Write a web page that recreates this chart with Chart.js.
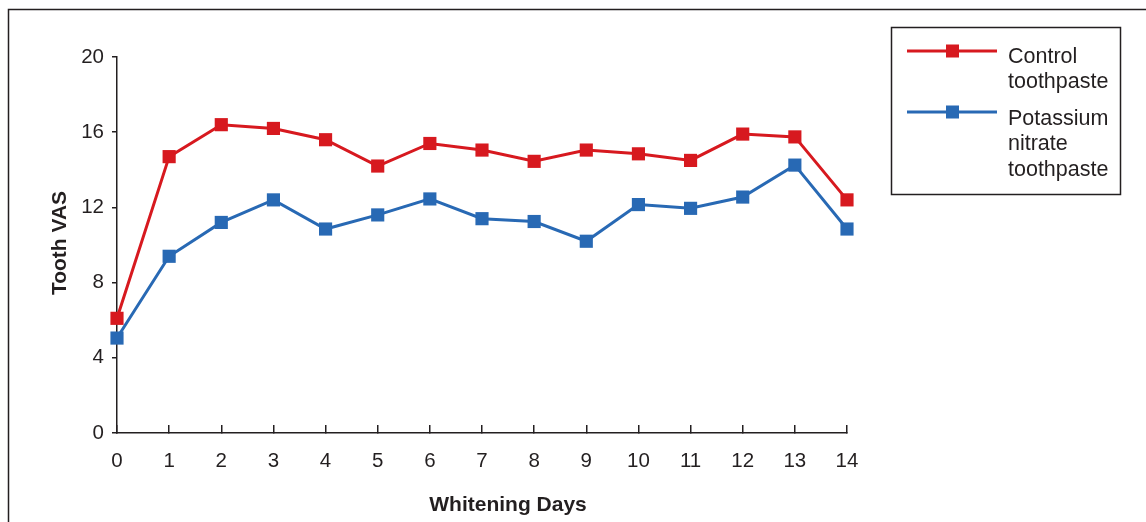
<!DOCTYPE html>
<html>
<head>
<meta charset="utf-8">
<script src="https://cdn.jsdelivr.net/npm/chart.js@4"></script>
<style>
  html, body { margin: 0; padding: 0; background: #fff; }
  #wrap { width: 1146px; height: 522px; position: relative; }
</style>
</head>
<body>
<div id="wrap"><canvas id="vasChart"></canvas></div>
<script>
// data
const days = [0, 1, 2, 3, 4, 5, 6, 7, 8, 9, 10, 11, 12, 13, 14];
const controlVas = [6.1, 14.7, 16.4, 16.2, 15.6, 14.2, 15.4, 15.05, 14.45, 15.05, 14.85, 14.5, 15.9, 15.75, 12.4];
const potassiumVas = [5.05, 9.4, 11.2, 12.4, 10.85, 11.6, 12.45, 11.4, 11.25, 10.2, 12.15, 11.95, 12.55, 14.25, 10.85];
const yTicks = [0, 4, 8, 12, 16, 20];
const controlLabel = ['Control', 'toothpaste'];
const potassiumLabel = ['Potassium', 'nitrate', 'toothpaste'];
const xTitle = 'Whitening Days';
const yTitle = 'Tooth VAS';

const RED = '#d7191f';
const BLUE = '#2869b4';
const INK = '#231f20';
const FONT = '"Liberation Sans", Arial, Helvetica, sans-serif';

// outer frame (only top and left edges show in the original)
const framePlugin = {
    id: 'frame',
    beforeDraw(chart) {
        const ctx = chart.ctx;
        ctx.save();
        ctx.strokeStyle = INK;
        ctx.lineWidth = 1.5;
        ctx.beginPath();
        ctx.moveTo(8.5, chart.height);
        ctx.lineTo(8.5, 9.5);
        ctx.lineTo(chart.width, 9.5);
        ctx.stroke();
        ctx.restore();
    }
};

// axis titles, placed like the figure
const titlesPlugin = {
    id: 'axisTitles',
    afterDraw(chart) {
        const ctx = chart.ctx;
        ctx.save();
        ctx.fillStyle = INK;
        ctx.font = 'bold 21px ' + FONT;
        ctx.textAlign = 'center';
        ctx.textBaseline = 'middle';
        ctx.fillText(xTitle, 508, 505);
        ctx.translate(60, 243);
        ctx.rotate(-Math.PI / 2);
        ctx.fillText(yTitle, 0, 0);
        ctx.restore();
    }
};

// boxed legend with multi-line labels
const legendPlugin = {
    id: 'boxLegend',
    afterDraw(chart) {
        const ctx = chart.ctx;
        const rows = [
            { ds: chart.data.datasets[0], lineY: 51, textY: 57 },
            { ds: chart.data.datasets[1], lineY: 112, textY: 119 }
        ];
        ctx.save();
        ctx.strokeStyle = INK;
        ctx.lineWidth = 1.5;
        ctx.strokeRect(891.5, 27.5, 229, 167);

        rows.forEach((r) => {
            ctx.strokeStyle = r.ds.borderColor;
            ctx.lineWidth = 3;
            ctx.beginPath();
            ctx.moveTo(907, r.lineY);
            ctx.lineTo(997, r.lineY);
            ctx.stroke();
            ctx.fillStyle = r.ds.borderColor;
            ctx.fillRect(946, r.lineY - 6.5, 13, 13);

            ctx.fillStyle = INK;
            ctx.font = '21.5px ' + FONT;
            ctx.textAlign = 'left';
            ctx.textBaseline = 'middle';
            r.ds.label.forEach((line, i) => {
                ctx.fillText(line, 1008, r.textY + i * 25.5);
            });
        });
        ctx.restore();
    }
};

const ctx = document.getElementById('vasChart');

new Chart(ctx, {
    type: 'line',
    data: {
        labels: days,
        datasets: [
            {
                label: controlLabel,
                data: controlVas,
                borderColor: RED,
                backgroundColor: RED,
                borderWidth: 3,
                pointStyle: 'rect',
                pointRadius: 9.3,
                pointBorderWidth: 0,
                pointBackgroundColor: RED,
                tension: 0,
                clip: false
            },
            {
                label: potassiumLabel,
                data: potassiumVas,
                borderColor: BLUE,
                backgroundColor: BLUE,
                borderWidth: 3,
                pointStyle: 'rect',
                pointRadius: 9.3,
                pointBorderWidth: 0,
                pointBackgroundColor: BLUE,
                tension: 0,
                clip: false
            }
        ]
    },
    options: {
        responsive: true,
        maintainAspectRatio: false,
        animation: false,
        events: [],
        layout: {
            padding: { left: 0, top: 57, right: 299, bottom: 0 }
        },
        plugins: {
            legend: { display: false },
            tooltip: { enabled: false }
        },
        scales: {
            x: {
                type: 'linear',
                min: 0,
                max: 14,
                ticks: {
                    stepSize: 1,
                    color: INK,
                    font: { family: FONT, size: 20.5 },
                    padding: 24,
                    maxRotation: 0
                },
                grid: {
                    drawOnChartArea: false,
                    color: INK,
                    lineWidth: 1.5,
                    tickLength: -8
                },
                border: { color: INK, width: 1.5 },
                afterFit: (scale) => { scale.height = 89; }
            },
            y: {
                min: 0,
                max: 20,
                afterBuildTicks: (scale) => {
                    scale.ticks = yTicks.map((v) => ({ value: v }));
                },
                ticks: {
                    color: INK,
                    font: { family: FONT, size: 20.5 },
                    padding: 8
                },
                grid: {
                    drawOnChartArea: false,
                    color: INK,
                    lineWidth: 1.5,
                    tickLength: 5
                },
                border: { color: INK, width: 1.5 },
                afterFit: (scale) => { scale.width = 117; }
            }
        }
    },
    plugins: [framePlugin, titlesPlugin, legendPlugin]
});
</script>
</body>
</html>
